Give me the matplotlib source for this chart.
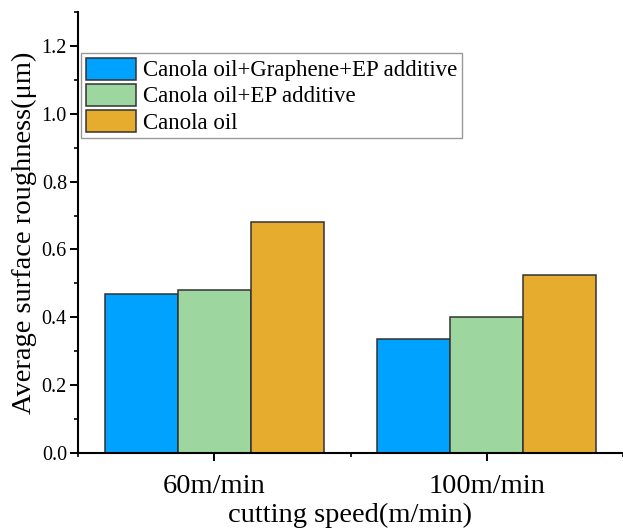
import matplotlib
matplotlib.use("Agg")
import matplotlib.pyplot as plt
from matplotlib.ticker import MultipleLocator, FixedLocator
import numpy as np

# values
speeds = ['60m/min', '100m/min']
series_names = ['Canola oil+Graphene+EP additive', 'Canola oil+EP additive', 'Canola oil']
graphene_ep = [0.47, 0.335]
ep_only = [0.48, 0.40]
canola = [0.68, 0.525]
colors = ['#00A2FF', '#9DD69E', '#E5AC2D']

plt.rcParams['font.family'] = ['Liberation Serif', 'DejaVu Serif']

fig = plt.figure(figsize=(6.23, 5.30), dpi=100)
ax = fig.add_axes([78 / 623, 1 - 453 / 530, 545 / 623, 441 / 530])

x = np.arange(len(speeds))
w = 0.268
for i, (vals, name) in enumerate(zip([graphene_ep, ep_only, canola], series_names)):
    ax.bar(x + (i - 1) * w, vals, width=w, color=colors[i], edgecolor='#333333',
           linewidth=1.1, label=name)

ax.set_xlim(-0.5, 1.5)
ax.set_ylim(0, 1.3001)

ax.spines['top'].set_visible(False)
ax.spines['right'].set_visible(False)
ax.spines['left'].set_linewidth(1.5)
ax.spines['bottom'].set_linewidth(1.5)

ax.set_xticks(x)
ax.set_xticklabels(speeds, fontsize=20.5)
ax.xaxis.set_minor_locator(FixedLocator([-0.5, 0.5, 1.5]))
ax.yaxis.set_major_locator(MultipleLocator(0.2))
ax.yaxis.set_minor_locator(MultipleLocator(0.1))
ax.yaxis.set_major_formatter(matplotlib.ticker.FormatStrFormatter('%.1f'))
ax.tick_params(axis='y', labelsize=14.5, pad=2)
ax.tick_params(axis='x', pad=9)
ax.tick_params(which='major', direction='out', length=6, width=1.4)
ax.tick_params(which='minor', direction='out', length=3, width=1.2)

ax.set_ylabel('Average surface roughness(μm)', fontsize=20.5, labelpad=3)
ax.set_xlabel('cutting speed(m/min)', fontsize=20.5, labelpad=3)

leg = ax.legend(loc='upper left', bbox_to_anchor=(81 / 623, 1 - 53 / 530),
                bbox_transform=fig.transFigure, fontsize=16.5, frameon=True,
                fancybox=False, edgecolor='#808080', borderaxespad=0,
                borderpad=0.2, handlelength=2.2, handleheight=1.1,
                handletextpad=0.3, labelspacing=0.1)
leg.get_frame().set_linewidth(1.0)

fig.savefig('out.png', dpi=100)
